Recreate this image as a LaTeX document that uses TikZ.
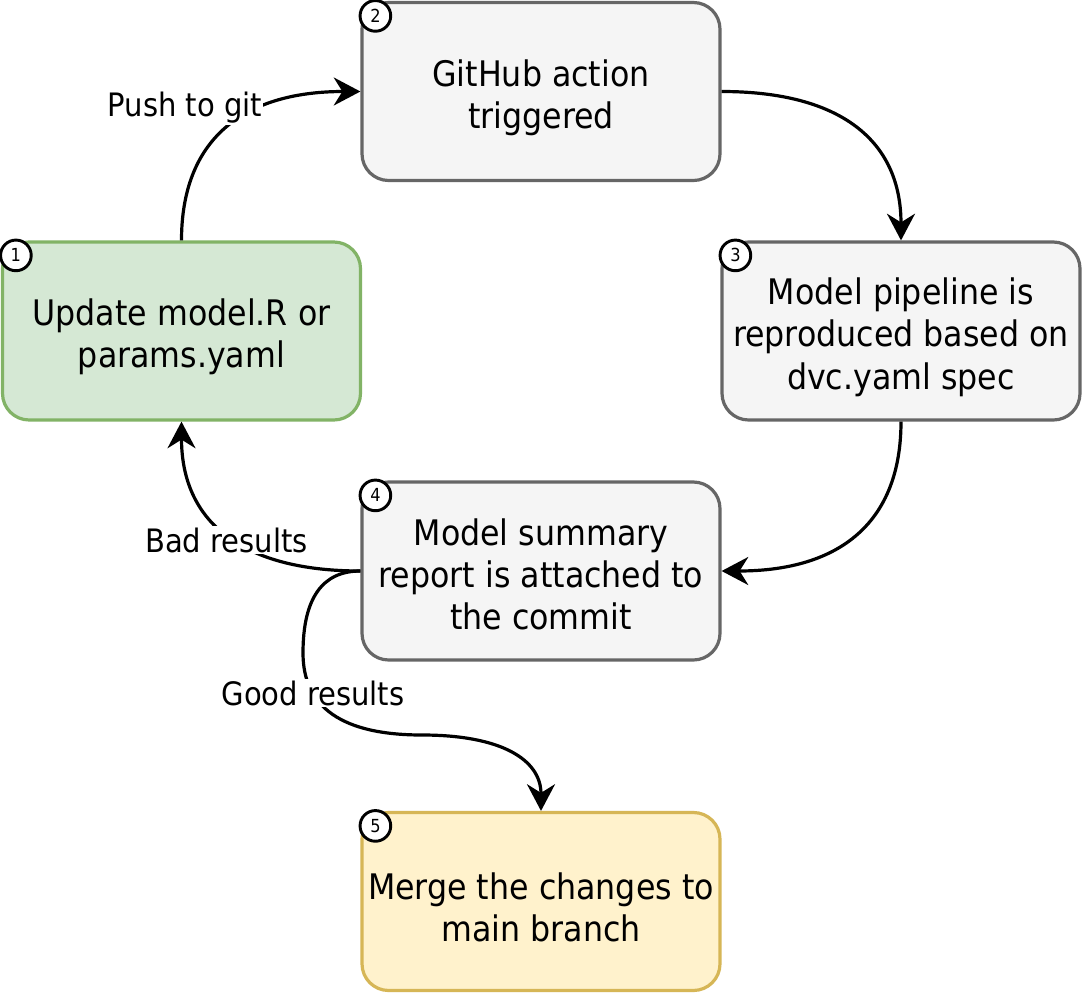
\documentclass[tikz,border=0pt]{standalone}
\usepackage{fontspec}
\setmainfont{DejaVu Sans Condensed}
\usetikzlibrary{arrows.meta,calc}
\definecolor{gfill}{HTML}{D5E8D4}
\definecolor{gline}{HTML}{82B366}
\definecolor{sfill}{HTML}{F5F5F5}
\definecolor{sline}{HTML}{666666}
\definecolor{stext}{HTML}{333333}
\definecolor{yfill}{HTML}{FFF2CC}
\definecolor{yline}{HTML}{D6B656}
\begin{document}
\begin{tikzpicture}[x=0.75pt,y=-0.75pt,
  box/.style={draw, line width=2.4pt, rounded corners=20pt, minimum width=268.5pt, minimum height=133.5pt, inner sep=0pt},
  boxtext/.style={inner sep=0pt, align=center, font=\fontsize{26.4}{31.8}\selectfont, yshift=-4.5pt},
  txt/.style={label={[boxtext]center:{#1}}},
  txtup/.style={label={[boxtext, yshift=2pt]center:{#1}}},
  greenbox/.style={box, fill=gfill, draw=gline, boxtext/.append style={text=black}},
  greybox/.style={box, fill=sfill, draw=sline, boxtext/.append style={text=stext}},
  yellowbox/.style={box, fill=yfill, draw=yline, boxtext/.append style={text=black}},
  num/.style={circle, draw=black, fill=white, line width=2.2pt, minimum size=23pt, inner sep=0pt, font=\fontsize{13.5}{15}\selectfont},
  conn/.style={draw=black, line width=2.4pt, -{Stealth[length=20pt, width=21pt, inset=6.5pt]}},
  lbl/.style={fill=white, inner sep=1pt, font=\fontsize{24.2}{29}\selectfont, text=black}
]
\useasboundingbox (0,0) rectangle (1086,996);
\fill[white] (0,0) rectangle (1086,996);

\node[greenbox,  txt={Update model.R or\\params.yaml}] (b1) at (181.5,331) {};
\node[greybox,   txt={GitHub action\\triggered}] (b2) at (541,91.5) {};
\node[greybox,   txt={Model pipeline is\\reproduced based on\\dvc.yaml spec}] (b3) at (901,331) {};
\node[greybox,   txtup={Model summary\\report is attached to\\the commit}] (b4) at (541,571) {};
\node[yellowbox, txt={Merge the changes to\\main branch}] (b5) at (541,901.5) {};

\foreach \i in {1,...,5}{
  \node[num] (n\i) at ($(b\i.north west)+(15,15)$) {\i};
}

% 1 -> 2
\draw[conn] (b1.north) .. controls ($(b1.north)!0.6667!(b1.north|-b2.west)$) and ($(b2.west)!0.6667!(b1.north|-b2.west)$) .. (b2.west);
% 2 -> 3
\draw[conn] (b2.east) .. controls ($(b2.east)!0.6667!(b3.north|-b2.east)$) and ($(b3.north)!0.6667!(b3.north|-b2.east)$) .. (b3.north);
% 3 -> 4
\draw[conn] (b3.south) .. controls ($(b3.south)!0.6667!(b3.south|-b4.east)$) and ($(b4.east)!0.6667!(b3.south|-b4.east)$) .. (b4.east);
% 4 -> 1
\draw[conn] (b4.west) .. controls ($(b4.west)!0.6667!(b1.south|-b4.west)$) and ($(b1.south)!0.6667!(b1.south|-b4.west)$) .. (b1.south);
% 4 -> 5
\coordinate (m1) at (303,653);
\coordinate (m2) at (422,735);
\draw[conn] (b4.west) .. controls (322.3,571) and (303,598.3) .. (m1)
  .. controls (303,707.7) and (342.7,735) .. (m2)
  .. controls (501.3,735) and ($(b5.north)+(0,-51.3)$) .. (b5.north);

\node[lbl] (lpush) at (185,108) {Push to git};
\node[lbl] (lbad)  at (226.5,540) {Bad results};
\node[lbl] (lgood) at (313,693) {Good results};
\end{tikzpicture}
\end{document}
